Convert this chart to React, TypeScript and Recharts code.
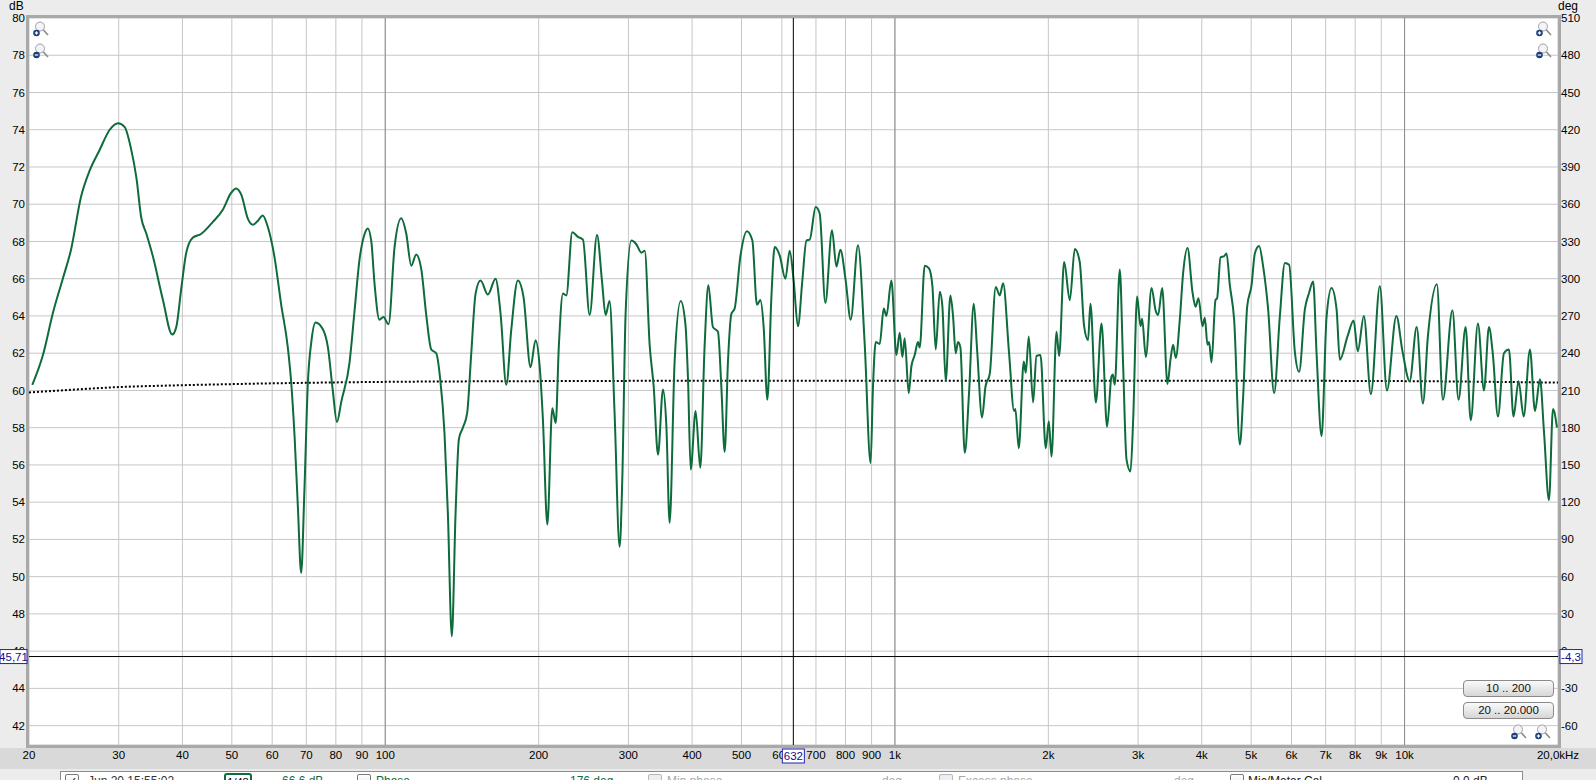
import React from "react";
import {
  ComposedChart,
  Line,
  XAxis,
  YAxis,
  CartesianGrid,
  ReferenceLine,
} from "recharts";

const bandLow: [number, number][] = [
  [20.3, 60.3], [21.3, 61.9], [22.3, 64.2], [23.3, 66.0], [24.2, 67.6], [25.3, 70.4],
  [26.3, 71.8], [27.5, 72.9], [28.8, 74.0], [29.9, 74.35], [30.8, 74.15], [31.7, 73.0],
  [32.5, 71.4], [33.2, 69.3], [34.0, 68.4], [35.0, 67.2], [36.6, 64.9], [38.2, 63.0],
  [38.9, 63.4], [39.8, 65.5], [40.7, 67.4], [41.9, 68.2], [43.5, 68.4], [45.9, 69.05],
  [48.0, 69.7], [49.8, 70.6], [51.0, 70.85], [52.2, 70.5], [53.8, 69.2], [55.0, 68.9],
  [56.2, 69.1], [57.5, 69.4], [58.8, 68.8], [60.6, 67.2], [62.5, 64.6], [64.4, 62.3],
  [65.4, 60.4], [66.4, 57.5], [67.4, 53.7], [68.4, 50.2], [69.4, 54.6], [70.5, 60.4],
  [71.6, 62.6], [73.0, 63.65], [75.4, 63.3], [77.2, 62.3], [78.9, 60.0], [80.4, 58.3],
  [82.0, 59.4], [85.1, 61.5], [87.0, 64.2], [89.0, 67.0], [91.1, 68.4], [92.4, 68.7],
  [93.9, 68.0], [95.3, 65.7], [97.4, 63.8], [99.2, 63.95], [101.5, 63.55],
];

const bandBass: [number, number][] = [
  [104.3, 67.7], [107.5, 69.25], [109.9, 68.45], [112.5, 66.7], [115.0, 67.3], [117.7, 66.5],
  [120.3, 64.1], [123.1, 62.2], [125.9, 62.0], [128.2, 60.6], [130.7, 57.7], [132.7, 53.4],
  [135.1, 46.8], [137.4, 53.4], [139.5, 57.4], [142.0, 58.0], [144.8, 58.8], [147.5, 62.0],
  [150.4, 65.2], [153.8, 65.9], [159.0, 65.15], [164.6, 66.0], [168.4, 64.1], [172.8, 60.3],
  [176.7, 63.25], [182.0, 65.9], [186.8, 65.0], [192.8, 61.25], [197.2, 62.7], [200.9, 61.3],
  [203.9, 58.4], [208.0, 52.8], [212.7, 59.05], [216.0, 58.25], [219.1, 62.4], [223.2, 65.2],
  [226.6, 65.1], [232.8, 68.5], [238.8, 68.25], [244.3, 68.1], [251.8, 64.05], [260.3, 68.35],
  [266.2, 65.9], [270.6, 64.05], [275.5, 64.8], [281.8, 58.8], [288.3, 51.6],
];

const bandMid: [number, number][] = [
  [291.8, 55.2], [296.2, 64.1], [304.0, 68.05], [310.9, 67.85], [318.1, 67.4], [322.9, 67.5],
  [330.3, 62.4], [336.3, 60.2], [342.9, 56.55], [350.7, 60.05], [356.1, 58.1], [361.4, 52.9],
  [369.7, 61.6], [379.9, 64.8], [388.0, 63.6], [392.7, 60.6], [397.5, 55.75], [406.4, 58.9],
  [415.1, 55.85], [423.3, 62.4], [430.5, 65.65], [439.5, 63.4], [449.6, 63.15], [456.5, 60.2],
  [463.4, 56.7], [470.3, 61.5], [477.6, 64.1], [484.8, 64.4], [497.5, 67.2], [512.5, 68.55],
  [525.2, 68.05], [536.2, 64.6], [544.5, 64.85], [552.7, 63.4], [562.0, 59.5], [572.3, 65.0],
  [580.9, 67.7], [594.2, 67.25], [609.7, 66.0], [621.6, 67.5], [632.9, 65.9], [645.3, 63.45],
  [658.2, 65.9], [670.4, 68.05], [680.5, 68.1], [699.1, 69.85], [711.9, 69.5], [730.4, 64.7],
  [752.6, 68.6], [767.7, 66.65], [781.6, 67.55], [800.6, 65.9], [819.0, 63.8], [846.4, 67.8],
  [872.4, 62.5], [896.0, 56.1],
];

const bandUpperMid: [number, number][] = [
  [905.7, 60.2], [917, 62.6], [933.8, 62.5], [950.7, 64.4], [962.3, 64.0], [984.2, 65.9],
  [1006.7, 61.9], [1021.9, 63.1], [1034.4, 61.8], [1045.2, 62.8], [1064.3, 59.85], [1077.4, 61.3],
  [1093.6, 61.9], [1109.9, 62.6], [1118.6, 62.3], [1144.1, 66.7], [1166.5, 66.55], [1184.6, 65.6],
  [1202.5, 62.2], [1224.6, 65.3], [1239.3, 64.5], [1258, 60.5], [1284.9, 65.1], [1300.2, 64.0],
  [1316.1, 62.0], [1329.8, 62.6], [1344.5, 62.3], [1370.9, 56.65], [1397.7, 59.85], [1428, 64.65],
  [1449.6, 62.2], [1482.6, 58.55], [1505.4, 60.2], [1535.2, 60.9], [1577.2, 65.55], [1606.1, 65.1],
  [1630.3, 65.75], [1674.9, 62.0], [1713.2, 58.9], [1723, 59.0], [1749.9, 56.9], [1789.9, 61.55],
  [1806, 60.95], [1830.8, 62.9], [1866.9, 59.35], [1895.5, 61.85], [1930.2, 61.9], [1977, 56.9],
  [2004, 58.35], [2029, 56.45], [2075, 63.15], [2100, 61.85], [2148, 66.9], [2204, 64.85],
  [2254, 67.6], [2305, 66.9], [2351, 63.45], [2393, 62.7], [2419, 64.65], [2479, 59.35],
  [2543, 63.6], [2608, 58.05],
];

const bandPresence: [number, number][] = [
  [2660, 60.75], [2676, 60.85], [2700, 60.3], [2762, 66.5], [2803, 61.5], [2847, 56.3],
  [2899, 55.65], [2934, 58.4], [2987, 65.05], [3033, 63.45], [3055, 63.85], [3107, 61.8],
  [3188, 65.5], [3250, 64.25], [3285, 64.05], [3345, 65.5], [3426, 60.35], [3473, 61.65],
  [3514, 62.45], [3557, 61.75], [3622, 63.8], [3677, 66.3], [3751, 67.65], [3837, 65.25],
  [3889, 64.5], [3942, 64.95], [4013, 63.45], [4056, 63.9], [4105, 62.45], [4135, 62.6],
  [4180, 61.5], [4256, 64.85], [4287, 64.95], [4354, 67.15], [4420, 67.2], [4474, 67.35],
  [4541, 65.65], [4630, 63.8], [4751, 57.1], [4823, 59.7], [4911, 64.5], [5009, 65.65],
  [5084, 67.35], [5183, 67.75], [5279, 66.65], [5399, 64.35], [5547, 59.85], [5691, 63.95],
  [5823, 66.85], [5936, 66.75], [6090, 62.1], [6210, 61.0], [6373, 64.35], [6497, 65.25],
  [6616, 65.85], [6719, 62.0], [6873, 57.55], [7030, 63.95], [7191, 65.5], [7355, 64.35],
  [7464, 61.65],
];

const bandTreble: [number, number][] = [
  [7727, 62.9], [7943, 63.75], [8094, 62.1], [8320, 64.0], [8587, 59.8], [8943, 65.6],
  [9233, 60.0], [9636, 64.0], [9906, 62.1], [10233, 60.5], [10563, 63.4], [10864, 59.3],
  [11111, 62.9], [11571, 65.7], [11889, 59.5], [12413, 64.3], [12760, 59.5], [13176, 63.4],
  [13483, 58.4], [13930, 63.6], [14313, 60.0], [14640, 63.4], [14906, 61.9], [15247, 58.6],
  [15667, 62.0], [16025, 62.2], [16356, 58.6], [16737, 60.5], [17126, 58.6], [17620, 62.2],
  [18023, 58.9], [18436, 60.6], [18771, 57.8], [19200, 54.1], [19552, 59.0], [19908, 58.0],
];

// Target curve (dotted)
const targetHz = [20, 25, 30, 40, 50, 70, 100, 200, 500, 1000, 5000, 10000, 20000];
const targetDb = [59.89, 60.06, 60.18, 60.28, 60.34, 60.41, 60.46, 60.5, 60.52, 60.52, 60.52, 60.5, 60.42];

const xTicks = [
  20, 30, 40, 50, 60, 70, 80, 90, 100, 200, 300, 400, 500, 600, 700, 800, 900,
  1000, 2000, 3000, 4000, 5000, 6000, 7000, 8000, 9000, 10000, 20000,
];
const xTickLabels = [
  "20", "30", "40", "50", "60", "70", "80", "90", "100", "200", "300", "400", "500", "600", "700", "800", "900",
  "1k", "2k", "3k", "4k", "5k", "6k", "7k", "8k", "9k", "10k", "20,0kHz",
];
const decadeLines = [100, 1000, 10000];
const dbTicks = [42, 44, 46, 48, 50, 52, 54, 56, 58, 60, 62, 64, 66, 68, 70, 72, 74, 76, 78, 80];
const degTicks = [-60, -30, 0, 30, 60, 90, 120, 150, 180, 210, 240, 270, 300, 330, 360, 390, 420, 450, 480, 510];

const dbMin = 40.96;
const dbMax = 80;
// phase axis: 15 deg per dB, 0 deg sits at 46 dB
const degDomain = [(dbMin - 46) * 15, (dbMax - 46) * 15];

const cursorHz = 632;
const cursorDb = 45.71;
const cursorDeg = -4.3;

const FONT = "'Liberation Sans', Arial, sans-serif";
const GREEN = "#0e6b3b";
const CURSOR_BLUE = "#10108a";

const curve = [...bandLow, ...bandBass, ...bandMid, ...bandUpperMid, ...bandPresence, ...bandTreble].map(
  ([f, db]) => ({ f, db })
);
const target = targetHz.map((f, i) => ({ f, db: targetDb[i] }));

const fmt = (v: number, digits: number) => v.toFixed(digits).replace(".", ",");

function CursorYLabel({ viewBox }: any) {
  if (!viewBox) return null;
  const { x, y, width } = viewBox;
  return (
    <g>
      <rect x={x - 29} y={y - 7} width={27} height={14} fill="#fff" stroke="#2323b0" />
      <text x={x - 15.5} y={y + 4} fontSize={11.5} fill={CURSOR_BLUE} textAnchor="middle" fontFamily={FONT}>
        {fmt(cursorDb, 2)}
      </text>
      <rect x={x + width + 2} y={y - 7} width={22} height={14} fill="#fff" stroke="#2323b0" />
      <text x={x + width + 13} y={y + 4} fontSize={11.5} fill={CURSOR_BLUE} textAnchor="middle" fontFamily={FONT}>
        {fmt(cursorDeg, 1)}
      </text>
    </g>
  );
}

function CursorXLabel({ viewBox }: any) {
  if (!viewBox) return null;
  const { x, y, height } = viewBox;
  const top = y + height + 4;
  return (
    <g>
      <rect x={x - 11} y={top} width={22} height={14} fill="#fff" stroke="#2323b0" />
      <text x={x} y={top + 11} fontSize={11.5} fill={CURSOR_BLUE} textAnchor="middle" fontFamily={FONT}>
        {cursorHz}
      </text>
    </g>
  );
}

function Magnifier({ left, top, plus }: { left: number; top: number; plus: boolean }) {
  return (
    <svg width={16} height={16} style={{ position: "absolute", left, top }}>
      <circle cx={7} cy={5.5} r={4.5} fill="#f4f4f8" stroke="#a0a0a8" strokeWidth={1} />
      <line x1={10.2} y1={8.8} x2={15} y2={14} stroke="#8a8a8a" strokeWidth={1.6} />
      <circle cx={3.5} cy={12} r={3.3} fill="#1b3d7c" />
      <line x1={1.8} y1={12} x2={5.2} y2={12} stroke="#fff" strokeWidth={1.2} />
      {plus && <line x1={3.5} y1={10.3} x2={3.5} y2={13.7} stroke="#fff" strokeWidth={1.2} />}
    </svg>
  );
}

function CheckBox({ left, checked, dim }: { left: number; checked?: boolean; dim?: boolean }) {
  return (
    <div
      style={{
        position: "absolute",
        left,
        top: 2,
        width: 12,
        height: 12,
        border: `1px solid ${dim ? "#b8b8b8" : "#7a7a7a"}`,
        borderRadius: 2,
        background: dim ? "#eeeeee" : "linear-gradient(#ffffff, #e4e4e4)",
        fontSize: 11,
        lineHeight: "12px",
        textAlign: "center",
      }}
    >
      {checked ? "✓" : ""}
    </div>
  );
}

const statusText = (left: number, text: string, color: string) => (
  <div style={{ position: "absolute", left, top: 2, fontSize: 12, color, whiteSpace: "nowrap" }}>{text}</div>
);

const tickStyle = { fill: "#000", fontSize: 11.5, fontFamily: FONT };

// the same axes in both layers so the cursor layer lines up with the plot
function axes(showTicks: boolean) {
  return [
    <XAxis
      key="x"
      dataKey="f"
      type="number"
      scale="log"
      domain={[20, 20000]}
      allowDataOverflow
      ticks={xTicks}
      interval={0}
      tickFormatter={(v: number) => xTickLabels[xTicks.indexOf(v)] ?? String(v)}
      height={35}
      axisLine={false}
      tickLine={false}
      tickSize={0}
      tickMargin={6}
      tick={showTicks ? tickStyle : false}
    />,
    <YAxis
      key="db"
      yAxisId="db"
      domain={[dbMin, dbMax]}
      allowDataOverflow
      ticks={dbTicks}
      interval={0}
      width={29}
      axisLine={false}
      tickLine={false}
      tickSize={0}
      tickMargin={4}
      tick={showTicks ? tickStyle : false}
    />,
    <YAxis
      key="deg"
      yAxisId="deg"
      orientation="right"
      domain={degDomain}
      allowDataOverflow
      ticks={degTicks}
      interval={0}
      width={38}
      axisLine={false}
      tickLine={false}
      tickSize={0}
      tickMargin={3}
      tick={showTicks ? { ...tickStyle, textAnchor: "start" } : false}
    />,
  ];
}

const chartMargin = { top: 18, right: 0, bottom: 0, left: 0 };

export default function App() {
  return (
    <div
      style={{
        position: "absolute",
        left: 0,
        top: 0,
        width: 1596,
        height: 780,
        overflow: "hidden",
        background: "#ececec",
        fontFamily: FONT,
      }}
    >
      {/* axis label band under the plot */}
      <div style={{ position: "absolute", left: 0, top: 748, width: 1596, height: 21, background: "#d9d9d9" }} />
      <div style={{ position: "absolute", left: 9, top: -1, fontSize: 12, lineHeight: "14px" }}>dB</div>
      <div style={{ position: "absolute", left: 1558, top: -1, fontSize: 12, lineHeight: "14px" }}>deg</div>

      <div style={{ position: "absolute", left: 0, top: 0 }}>
        <ComposedChart width={1596} height={780} data={curve} margin={chartMargin}>
          <CartesianGrid yAxisId="db" fill="#ffffff" stroke="#c6c6c6" strokeWidth={1} />
          {axes(true)}
          {decadeLines.map((f) => (
            <ReferenceLine key={f} x={f} yAxisId="db" stroke="#8c8c8c" strokeWidth={1} />
          ))}
          <Line
            yAxisId="db"
            data={target}
            dataKey="db"
            type="monotone"
            stroke="#000"
            strokeWidth={2}
            strokeDasharray="2 2"
            dot={false}
            activeDot={false}
            isAnimationActive={false}
          />
          <Line
            yAxisId="db"
            dataKey="db"
            type="monotone"
            stroke={GREEN}
            strokeWidth={2}
            dot={false}
            activeDot={false}
            isAnimationActive={false}
          />
        </ComposedChart>
      </div>

      {/* plot frame */}
      <div
        style={{
          position: "absolute",
          left: 26,
          top: 15,
          width: 1535,
          height: 733,
          boxSizing: "border-box",
          border: "3px solid #a9a9a9",
          pointerEvents: "none",
        }}
      />

      {/* cursor layer, drawn above the tick labels */}
      <div style={{ position: "absolute", left: 0, top: 0, pointerEvents: "none" }}>
        <ComposedChart width={1596} height={780} data={curve} margin={chartMargin}>
          {axes(false)}
          <ReferenceLine x={cursorHz} yAxisId="db" stroke="#000" strokeWidth={1} label={<CursorXLabel />} />
          <ReferenceLine y={cursorDb} yAxisId="db" stroke="#000" strokeWidth={1} label={<CursorYLabel />} />
        </ComposedChart>
      </div>

      <Magnifier left={33} top={21} plus />
      <Magnifier left={33} top={43} plus={false} />
      <Magnifier left={1536} top={21} plus />
      <Magnifier left={1536} top={43} plus={false} />
      <Magnifier left={1511} top={724} plus={false} />
      <Magnifier left={1535} top={724} plus />

      {["10 .. 200", "20 .. 20.000"].map((t, i) => (
        <div
          key={t}
          style={{
            position: "absolute",
            left: 1463,
            top: 680 + i * 22,
            width: 91,
            height: 17,
            boxSizing: "border-box",
            border: "1px solid #8a8a8a",
            borderRadius: 4,
            background: "linear-gradient(#fafafa, #d6d6d6)",
            fontSize: 11.5,
            lineHeight: "15px",
            textAlign: "center",
            color: "#111",
          }}
        >
          {t}
        </div>
      ))}

      {/* legend / status strip, cut off by the window */}
      <div
        style={{
          position: "absolute",
          left: 60,
          top: 771,
          width: 1463,
          height: 30,
          boxSizing: "border-box",
          border: "1px solid #8c8c8c",
          background: "#fff",
        }}
      >
        <CheckBox left={4} checked />
        {statusText(27, "Jun 20 15:55:02", "#333")}
        <div
          style={{
            position: "absolute",
            left: 163,
            top: 1,
            width: 24,
            height: 16,
            border: `2px solid ${GREEN}`,
            borderRadius: 3,
            fontSize: 11,
            lineHeight: "14px",
            textAlign: "center",
          }}
        >
          1/48
        </div>
        {statusText(221, "66.6 dB", GREEN)}
        <CheckBox left={296} />
        {statusText(315, "Phase", GREEN)}
        {statusText(509, "176 deg", GREEN)}
        <CheckBox left={587} dim />
        {statusText(606, "Min phase", "#a8a8a8")}
        {statusText(821, "deg", "#a8a8a8")}
        <CheckBox left={878} dim />
        {statusText(897, "Excess phase", "#a8a8a8")}
        {statusText(1113, "deg", "#a8a8a8")}
        <CheckBox left={1169} />
        {statusText(1187, "Mic/Meter Cal", "#222")}
        {statusText(1392, "0.0 dB", "#222")}
      </div>
    </div>
  );
}
